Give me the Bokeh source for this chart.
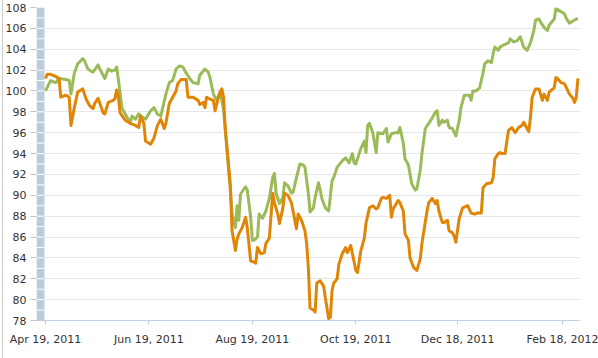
import pandas as pd
from bokeh.plotting import figure
from bokeh.models import Range1d, FixedTicker, DatetimeTickFormatter
from bokeh.embed import file_html
from bokeh.resources import INLINE

# ---------------- data ----------------
start_date = "2011-04-19"

green_days = [0, 3, 6, 8, 12, 14, 15, 17, 19, 22, 23, 25, 28, 31, 32, 35, 37, 39, 41, 42,
              44, 45, 47, 50, 51, 53, 55, 57, 59, 62, 64, 66, 68, 71, 73, 75, 77, 79, 81, 83,
              86, 87, 90, 91, 94, 96, 97, 99, 101, 102, 103, 105, 107, 109, 110, 112, 113, 114, 115, 117,
              118, 119, 121, 122, 123, 125, 126, 128, 130, 132, 134, 135, 136, 138, 140, 141, 143, 145, 146, 148,
              150, 152, 153, 155, 156, 158, 159, 161, 162, 163, 165, 167, 169, 170, 172, 175, 177, 179, 181, 182,
              183, 186, 188, 189, 190, 191, 193, 195, 196, 199, 201, 202, 204, 206, 208, 209, 211, 212, 214, 216,
              218, 219, 221, 222, 224, 226, 228, 230, 231, 232, 234, 235, 237, 238, 240, 242, 244, 245, 247, 250,
              251, 252, 254, 256, 258, 259, 261, 263, 264, 265, 267, 268, 270, 273, 274, 276, 278, 280, 281, 282,
              284, 286, 288, 289, 291, 292, 294, 296, 297, 300, 301, 303, 306, 307, 309, 311, 313, 314]
green_vals = [100.0, 101.0, 100.8, 101.2, 101.1, 101.0, 99.7, 101.7, 102.6, 103.1, 102.9, 102.1, 101.8, 102.5, 102.1, 101.2, 102.1, 101.9, 102.0, 102.3,
              99.8, 98.4, 97.8, 96.9, 97.6, 97.3, 97.8, 97.5, 97.3, 98.1, 98.4, 97.8, 97.6, 99.7, 100.8, 101.0, 102.1, 102.4, 102.3, 101.7,
              101.0, 100.8, 100.7, 101.5, 102.1, 101.8, 101.3, 99.7, 99.1, 99.5, 100.0, 98.2, 94.3, 90.5, 88.2, 86.9, 89.0, 87.6, 90.1, 90.6,
              90.8, 90.5, 87.9, 85.7, 85.7, 86.0, 88.2, 87.8, 88.5, 89.7, 91.7, 92.1, 90.2, 89.2, 89.8, 91.2, 90.9, 90.2, 90.3, 91.7,
              93.0, 92.9, 92.7, 90.2, 88.4, 88.8, 89.8, 91.2, 90.5, 89.7, 88.8, 88.5, 91.4, 91.7, 92.7, 93.3, 93.6, 93.1, 94.0, 93.1,
              93.0, 94.5, 95.2, 94.1, 96.7, 96.9, 96.0, 94.1, 96.0, 95.9, 96.4, 95.1, 95.9, 96.0, 96.0, 96.5, 95.0, 93.5, 92.9, 91.1,
              90.5, 90.6, 92.4, 94.0, 96.4, 96.9, 97.4, 98.0, 98.1, 96.7, 97.2, 97.0, 97.2, 96.5, 96.4, 95.7, 97.2, 98.4, 99.6, 99.6,
              99.1, 100.0, 100.0, 100.3, 101.7, 102.6, 102.9, 102.7, 103.6, 104.2, 103.9, 104.2, 104.4, 104.6, 105.0, 104.7, 104.8, 105.2, 104.7, 104.2,
              103.9, 104.6, 105.8, 106.8, 106.9, 106.6, 106.1, 105.8, 106.3, 106.9, 107.9, 107.7, 107.4, 107.0, 106.5, 106.7, 106.9, 106.9]

orange_days = [0, 1, 3, 6, 8, 9, 12, 14, 15, 17, 19, 22, 24, 26, 28, 29, 31, 34, 35, 37,
               40, 41, 42, 43, 44, 47, 50, 53, 55, 56, 58, 59, 62, 64, 66, 68, 70, 71, 73, 75,
               77, 78, 80, 83, 84, 86, 87, 90, 91, 93, 94, 95, 96, 99, 100, 102, 104, 105, 106, 109,
               110, 112, 113, 114, 116, 118, 119, 121, 123, 124, 125, 127, 129, 130, 132, 134, 135, 137, 138, 140,
               141, 143, 145, 146, 148, 149, 151, 153, 154, 155, 156, 158, 159, 160, 162, 164, 165, 167, 168, 169,
               170, 172, 173, 175, 177, 178, 180, 181, 183, 184, 186, 188, 189, 191, 193, 195, 196, 198, 199, 201,
               203, 204, 205, 208, 209, 211, 212, 214, 215, 217, 219, 221, 222, 225, 226, 228, 230, 231, 232, 234,
               235, 237, 238, 240, 241, 242, 244, 246, 249, 251, 253, 255, 257, 258, 260, 263, 264, 265, 267, 268,
               269, 271, 273, 275, 277, 279, 281, 282, 284, 285, 286, 287, 289, 291, 293, 294, 296, 297, 300, 301,
               302, 304, 306, 309, 311, 312, 313, 314]
orange_vals = [101.2, 101.6, 101.6, 101.4, 101.2, 99.4, 99.6, 99.4, 96.7, 98.4, 99.9, 100.2, 99.2, 98.6, 98.3, 98.8, 99.3, 97.9, 97.8, 98.9,
               99.1, 99.3, 100.1, 99.4, 97.9, 97.2, 96.9, 96.7, 96.5, 97.6, 96.9, 95.2, 94.9, 95.5, 96.7, 97.3, 96.4, 96.9, 98.8, 99.4,
               100.0, 100.7, 101.1, 101.1, 99.4, 99.4, 99.4, 99.1, 98.7, 98.9, 98.4, 99.4, 99.3, 99.1, 98.1, 99.4, 100.2, 99.4, 96.5, 91.0,
               86.6, 84.7, 85.8, 86.3, 86.9, 87.9, 86.9, 83.7, 83.6, 83.5, 85.0, 84.4, 84.5, 85.4, 85.9, 90.2, 89.3, 88.2, 87.3, 88.8,
               90.2, 90.0, 89.3, 88.5, 86.8, 88.2, 87.6, 86.6, 85.4, 83.1, 79.2, 79.0, 78.8, 81.6, 81.8, 81.3, 80.2, 78.2, 78.3, 80.9,
               81.6, 82.0, 83.4, 84.4, 85.0, 84.5, 85.2, 84.4, 82.8, 82.6, 84.7, 85.9, 87.3, 88.8, 89.0, 88.7, 88.8, 89.7, 89.8, 89.7,
               90.0, 87.9, 88.7, 89.5, 89.3, 88.5, 86.3, 85.7, 84.0, 83.1, 82.8, 83.9, 85.4, 88.5, 89.3, 89.7, 89.2, 89.5, 88.5, 87.4,
               87.4, 87.6, 86.6, 86.4, 86.1, 85.5, 87.8, 88.8, 89.0, 88.3, 88.2, 88.3, 88.3, 90.7, 91.1, 91.2, 91.7, 93.5, 94.0, 94.1,
               94.0, 94.0, 96.2, 96.5, 96.0, 96.5, 96.7, 97.0, 96.4, 96.1, 97.5, 99.4, 100.2, 100.2, 99.1, 99.7, 99.1, 99.9, 100.3, 101.3,
               101.2, 100.8, 100.7, 99.7, 99.3, 98.9, 99.4, 101.2]

x_tick_dates = ["2011-04-19", "2011-06-19", "2011-08-19", "2011-10-19", "2011-12-18", "2012-02-18"]
y_ticks = [78, 80, 82, 84, 86, 88, 90, 92, 94, 96, 98, 100, 102, 104, 106, 108]

# ---------------- build ----------------
DAY = 86400000.0
t0 = pd.Timestamp(start_date)
t0_ms = t0.value / 1e6

green_x = [t0 + pd.Timedelta(days=d) for d in green_days]
orange_x = [t0 + pd.Timedelta(days=d) for d in orange_days]

x_start = t0_ms - 5.3 * DAY
x_end = t0_ms + 315.5 * DAY
bar_right = t0_ms - 0.6 * DAY

p = figure(width=598, height=358, x_axis_type="datetime",
           x_range=Range1d(x_start, x_end), y_range=Range1d(78, 108),
           output_backend="svg", toolbar_location=None,
           min_border_left=36, min_border_right=18, min_border_top=7, min_border_bottom=38)
p.outline_line_color = None
p.background_fill_color = "white"
p.border_fill_color = None
p.styles = {"background": "linear-gradient(to right, #ffffff 0px, #ffffff 2px, #c8c8c8 2px, #c8c8c8 3px, #ffffff 3px, #ffffff 100%)"}

p.xgrid.grid_line_color = None
p.ygrid.grid_line_color = "#e6e6e6"
p.ygrid.grid_line_width = 1

# decorative striped bar at the left of the plot area
p.quad(left=[x_start], right=[bar_right], bottom=[78], top=[108],
       fill_color="#bccbdb", line_color=None)
stripe_y = list(range(79, 108))
p.segment(x0=[x_start] * len(stripe_y), x1=[bar_right] * len(stripe_y),
          y0=stripe_y, y1=stripe_y, line_color="white", line_width=1)

p.line(green_x, green_vals, line_width=3, line_color="#9bbb59", line_join="round")
p.line(orange_x, orange_vals, line_width=3, line_color="#e08506", line_join="round")

# axes
p.yaxis.ticker = FixedTicker(ticks=y_ticks)
p.yaxis.axis_line_color = None
p.yaxis.major_tick_line_color = "#c4c4c4"
p.yaxis.major_tick_out = 6
p.yaxis.major_tick_in = 0
p.yaxis.minor_tick_line_color = None
p.yaxis.major_label_standoff = 4

x_ticks = [pd.Timestamp(d).value / 1e6 for d in x_tick_dates]
p.xaxis.ticker = FixedTicker(ticks=x_ticks)
fmt = "%b %d, %Y"
p.xaxis.formatter = DatetimeTickFormatter(milliseconds=fmt, seconds=fmt, minsec=fmt, minutes=fmt,
                                          hourmin=fmt, hours=fmt, days=fmt, months=fmt, years=fmt)
p.xaxis.axis_line_color = "#c0d0e0"
p.xaxis.major_tick_line_color = "#c0d0e0"
p.xaxis.major_tick_out = 4
p.xaxis.major_tick_in = 0
p.xaxis.minor_tick_line_color = None
p.xaxis.major_label_standoff = 8

for ax in (p.xaxis, p.yaxis):
    ax.major_label_text_font = "DejaVu Sans"
    ax.major_label_text_font_size = "11px"
    ax.major_label_text_color = "#333333"

open("out.html", "w").write(file_html(p, INLINE))
